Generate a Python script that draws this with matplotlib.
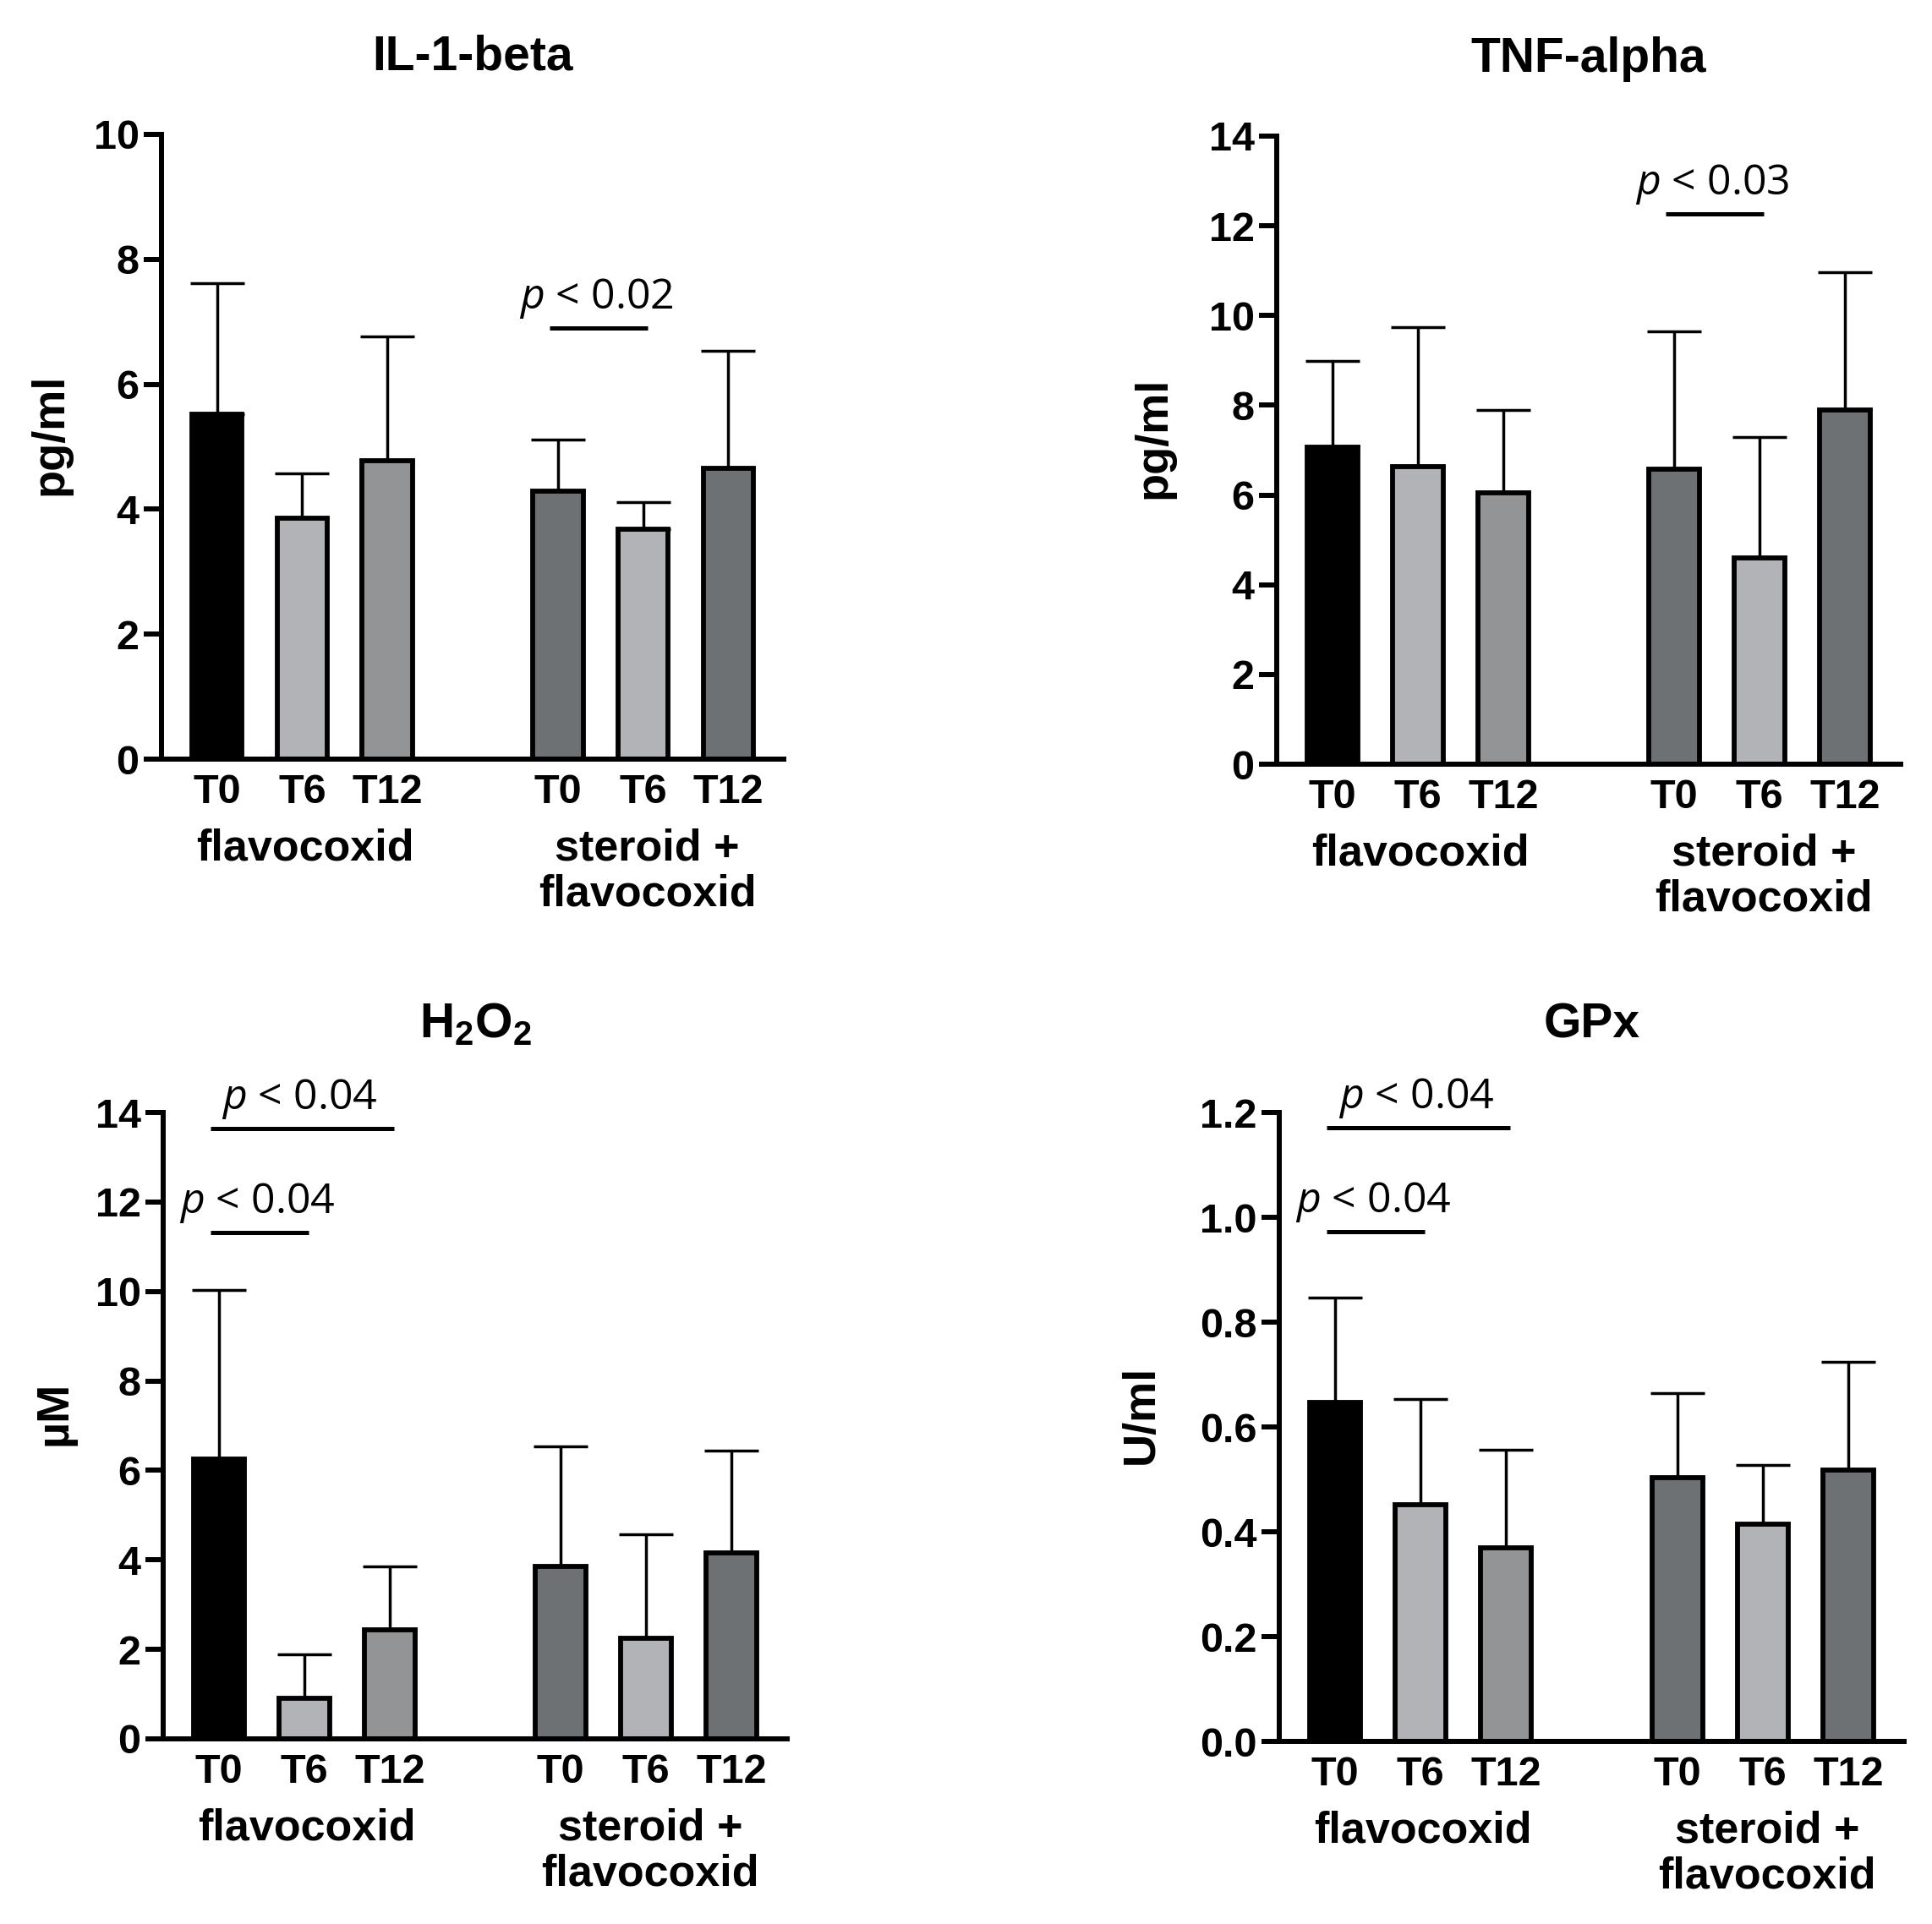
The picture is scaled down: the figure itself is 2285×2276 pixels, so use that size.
import matplotlib
matplotlib.use("Agg")
import matplotlib.pyplot as plt
import numpy as np

plt.rcParams["font.family"] = ["Liberation Sans", "DejaVu Sans"]
plt.rcParams["mathtext.fontset"] = "custom"
plt.rcParams["mathtext.it"] = "Open Sans:italic:normal"
plt.rcParams["mathtext.rm"] = "Open Sans:normal"
plt.rcParams["mathtext.bf"] = "Liberation Sans:bold"

# ---- data ----
times = ["T0", "T6", "T12", "T0", "T6", "T12"]
groups = ["flavocoxid", "steroid +\nflavocoxid"]

titles = ["IL-1-beta", "TNF-alpha", r"$\mathbf{H}_\mathbf{2}\mathbf{O}_\mathbf{2}$", "GPx"]
ylabels = ["pg/ml", "pg/ml", "µM", "U/ml"]

il1_mean = [5.52, 3.85, 4.77, 4.29, 3.68, 4.66]
il1_sd = [2.10, 0.73, 1.99, 0.82, 0.44, 1.88]

tnf_mean = [7.07, 6.63, 6.05, 6.57, 4.59, 7.89]
tnf_sd = [1.92, 3.11, 1.84, 3.08, 2.70, 3.08]

h2o2_mean = [6.26, 0.90, 2.43, 3.86, 2.24, 4.16]
h2o2_sd = [3.78, 0.99, 1.43, 2.68, 2.33, 2.29]

gpx_mean = [0.647, 0.451, 0.370, 0.504, 0.415, 0.518]
gpx_sd = [0.200, 0.202, 0.186, 0.161, 0.112, 0.207]

y_max = [10, 14, 14, 1.2]
y_step = [2, 2, 2, 0.2]

# significance brackets: (from bar, to bar, level, label)
il1_sig = [(3, 4, 6.9, "0.02")]
tnf_sig = [(3, 4, 12.27, "0.03")]
h2o2_sig = [(0, 2, 13.65, "0.04"), (0, 1, 11.32, "0.04")]
gpx_sig = [(0, 2, 1.171, "0.04"), (0, 1, 0.973, "0.04")]

# ---- styling ----
colors = ["#000000", "#b1b3b6", "#929496", "#6e7174", "#b1b3b6", "#6e7174"]
positions = np.array([0, 1, 2, 4, 5, 6])
group_pos = [1.03, 5.05]

W, H = 2285, 2276
# axes boxes in pixels: left, top, right, bottom
boxes = [
    (191, 159, 927, 898),
    (1510, 161, 2248, 904),
    (193, 1316, 931, 2057),
    (1513, 1316, 2252, 2060),
]
title_pads = [55, 55, 64, 64]
ylabel_x = [-0.145, -0.163, -0.14, -0.187]

fig = plt.figure(figsize=(W / 100, H / 100), dpi=100)

panels = [
    (il1_mean, il1_sd, il1_sig),
    (tnf_mean, tnf_sd, tnf_sig),
    (h2o2_mean, h2o2_sd, h2o2_sig),
    (gpx_mean, gpx_sd, gpx_sig),
]

for i, (means, sds, sigs) in enumerate(panels):
    l, t, r, b = boxes[i]
    ax = fig.add_axes([l / W, 1 - b / H, (r - l) / W, (b - t) / H])

    ax.errorbar(positions, means, yerr=[np.zeros(len(sds)), sds], fmt="none",
                ecolor="black", elinewidth=2.5, capsize=23, capthick=2.5, zorder=1)
    ax.bar(positions, means, width=0.59, color=colors, edgecolor="black",
           linewidth=4.2, zorder=2)

    ax.set_xlim(-0.65, 6.65)
    ax.set_ylim(0, y_max[i])
    ticks = np.arange(0, y_max[i] + y_step[i] / 2, y_step[i])
    ax.set_yticks(ticks)
    if y_step[i] < 1:
        ax.set_yticklabels([f"{v:.1f}" for v in ticks])
    else:
        ax.set_yticklabels([f"{int(round(v))}" for v in ticks])

    ax.set_xticks(positions)
    ax.set_xticklabels(times)

    for side in ("top", "right"):
        ax.spines[side].set_visible(False)
    for side in ("left", "bottom"):
        ax.spines[side].set_linewidth(4.3)
    ax.tick_params(axis="y", direction="out", length=15, width=4.3, pad=4,
                   labelsize=35)
    ax.tick_params(axis="x", length=0, pad=12, labelsize=35)
    for lab in ax.get_xticklabels() + ax.get_yticklabels():
        lab.set_fontweight("bold")

    for gx, gname in zip(group_pos, groups):
        ax.annotate(gname, xy=(gx, 0), xycoords=("data", "axes fraction"),
                    xytext=(0, -59), textcoords="offset points",
                    ha="center", va="top", fontsize=37.5, fontweight="bold",
                    linespacing=1.12)

    ax.set_title(titles[i], fontsize=41, fontweight="bold", pad=title_pads[i], y=1.0)
    ax.set_ylabel(ylabels[i], fontsize=39, fontweight="bold")
    ax.yaxis.set_label_coords(ylabel_x[i], 0.52)

    span = y_max[i]
    for a, c, level, pval in sigs:
        x0 = positions[a] - 0.1
        x1 = positions[c] + 0.05
        ax.plot([x0, x1], [level, level], color="black", linewidth=3.6,
                solid_capstyle="butt", clip_on=False)
        if positions[c] - positions[a] == 1:
            xc = positions[a] + 0.45
        else:
            xc = positions[a] + 0.95
        ax.text(xc, level + span * 0.031, r"$p$ < " + pval, ha="center", va="baseline",
                fontsize=36, fontweight="normal", family="Open Sans")

fig.savefig("out.png", dpi=100)
